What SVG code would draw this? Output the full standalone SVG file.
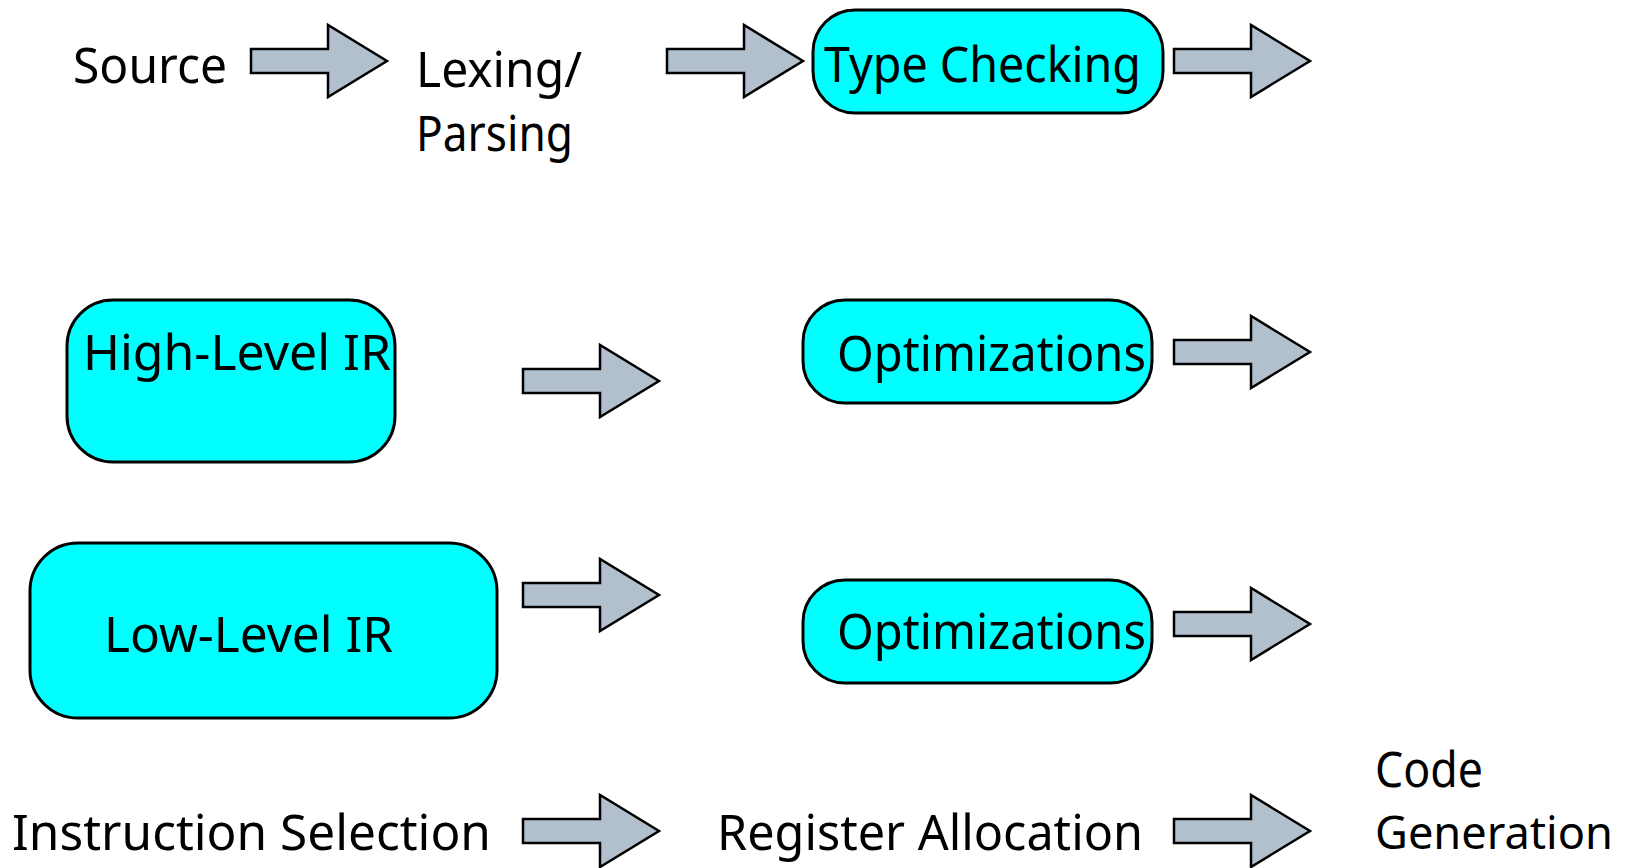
<svg xmlns="http://www.w3.org/2000/svg" xmlns:xlink="http://www.w3.org/1999/xlink" width="1629" height="868" viewBox="0 0 1629 868">
  <style>
    .box { fill: #00FFFF; stroke: #000; stroke-width: 3; }
    .arrow { fill: #B2BFCC; stroke: #000; stroke-width: 2.5; stroke-linejoin: miter; }
    .lbl { font-family: "Noto Sans", "DejaVu Sans", sans-serif; font-size: 49px; fill: #000; }
    .edge { font-size: 45px; }
  </style>
  <defs>
    <!-- block arrow: origin at left end of shaft, vertical centre -->
    <path id="blockArrow" class="arrow" d="M0,-12 H77 V-36 L136,0 L77,36 V12 H0 Z"/>
  </defs>

  <rect width="1629" height="868" fill="#fff"/>

  <g id="connectors">
    <use xlink:href="#blockArrow" transform="translate(251,61)"/>
    <use xlink:href="#blockArrow" transform="translate(667,61)"/>
    <use xlink:href="#blockArrow" transform="translate(1174,61)"/>
    <use xlink:href="#blockArrow" transform="translate(523,381)"/>
    <use xlink:href="#blockArrow" transform="translate(1174,352)"/>
    <use xlink:href="#blockArrow" transform="translate(523,595)"/>
    <use xlink:href="#blockArrow" transform="translate(1174,624)"/>
    <use xlink:href="#blockArrow" transform="translate(523,831)"/>
    <use xlink:href="#blockArrow" transform="translate(1174,831)"/>
  </g>

  <g id="source">
    <text class="lbl" x="73" y="83" textLength="154" lengthAdjust="spacingAndGlyphs">Source</text>
  </g>

  <g id="lexing-parsing">
    <text class="lbl" x="416" y="87" textLength="166" lengthAdjust="spacingAndGlyphs">Lexing/</text>
    <text class="lbl" x="416" y="151" textLength="157" lengthAdjust="spacingAndGlyphs">Parsing</text>
  </g>

  <g id="type-checking">
    <rect class="box" x="813" y="10" width="350" height="103" rx="42" ry="42"/>
    <text class="lbl" x="824" y="82" textLength="317" lengthAdjust="spacingAndGlyphs">Type Checking</text>
  </g>

  <g id="high-level-ir">
    <rect class="box" x="67" y="300" width="328" height="162" rx="46" ry="46"/>
    <text class="lbl" x="83" y="370" textLength="308" lengthAdjust="spacingAndGlyphs">High-Level IR</text>
  </g>

  <g id="optimizations-high">
    <rect class="box" x="803" y="300" width="349" height="103" rx="42" ry="42"/>
    <text class="lbl" x="837" y="371" textLength="309" lengthAdjust="spacingAndGlyphs">Optimizations</text>
  </g>

  <g id="low-level-ir">
    <rect class="box" x="30" y="543" width="467" height="175" rx="48" ry="48"/>
    <text class="lbl" x="104" y="652" textLength="289" lengthAdjust="spacingAndGlyphs">Low-Level IR</text>
  </g>

  <g id="optimizations-low">
    <rect class="box" x="803" y="580" width="349" height="103" rx="42" ry="42"/>
    <text class="lbl" x="837" y="649" textLength="309" lengthAdjust="spacingAndGlyphs">Optimizations</text>
  </g>

  <g id="instruction-selection">
    <text class="lbl" x="12" y="850" textLength="479" lengthAdjust="spacingAndGlyphs">Instruction Selection</text>
  </g>

  <g id="register-allocation">
    <text class="lbl" x="717" y="850" textLength="426" lengthAdjust="spacingAndGlyphs">Register Allocation</text>
  </g>

  <g id="code-generation">
    <text class="lbl" x="1375" y="787" textLength="108" lengthAdjust="spacingAndGlyphs">Code</text>
    <text class="lbl edge" x="1375" y="849" textLength="238" lengthAdjust="spacingAndGlyphs">Generation</text>
  </g>
</svg>
